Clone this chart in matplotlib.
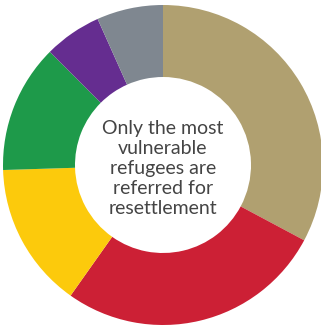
import matplotlib
matplotlib.use("Agg")
import matplotlib.pyplot as plt

categories = ["Tan", "Red", "Yellow", "Green", "Purple", "Gray"]
values = [32.8, 27.0, 14.7, 13.0, 5.8, 6.7]
colors = ["#b0a070", "#cc2035", "#fcca0c", "#1e9a4a", "#652d90", "#7f8790"]
center_text = "Only the most\nvulnerable\nrefugees are\nreferred for\nresettlement"

fig = plt.figure(figsize=(3.21, 3.27), dpi=100)
ax = fig.add_axes([3/321, 2/327, 320/321, 320/327])
ax.pie(values, colors=colors, startangle=90, counterclock=False, radius=1.0,
       wedgeprops=dict(width=0.45, edgecolor="none"))
ax.set_xlim(-1, 1)
ax.set_ylim(-1, 1)
ax.set_aspect("equal")
ax.axis("off")
ax.text(0, -0.02, center_text, ha="center", va="center", fontsize=14,
        family=["Lato", "DejaVu Sans"], weight="normal", color="#444444",
        linespacing=1.22)
fig.savefig("out.png", dpi=100)
